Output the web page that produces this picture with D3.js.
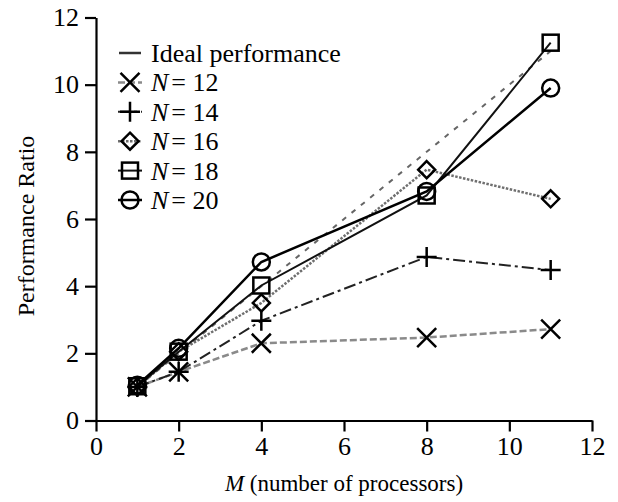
<!DOCTYPE html>
<html><head><meta charset="utf-8">
<script src="https://cdn.jsdelivr.net/npm/d3@7"></script>
<style>
body{margin:0;background:#fff;}
svg{display:block;font-family:"Liberation Serif","Times New Roman",serif;}
</style></head>
<body>
<svg id="chart" width="618" height="502"></svg>
<script>
const xValues = [1, 2, 4, 8, 11];
const idealValues = [1, 2, 4, 8, 11];
const n12Values = [1, 1.45, 2.3, 2.47, 2.72];
const n14Values = [1, 1.45, 2.97, 4.87, 4.48];
const n16Values = [1, 2.05, 3.5, 7.47, 6.6];
const n18Values = [1.02, 2.05, 4.02, 6.7, 11.25];
const n20Values = [1.05, 2.15, 4.72, 6.82, 9.9];
const xTicks = [0, 2, 4, 6, 8, 10, 12];
const yTicks = [0, 2, 4, 6, 8, 10, 12];
const seriesLabels = ["12", "14", "16", "18", "20"];

const FONT = '"Liberation Serif","Times New Roman",serif';
const svg = d3.select("#chart");
const x = d3.scaleLinear().domain([0, 12]).range([96, 592]);
const y = d3.scaleLinear().domain([0, 12]).range([420.5, 17.5]);

const styles = [
  {marker: "x", stroke: "#8a8a8a", width: 2.5, dash: "7,3"},
  {marker: "plus", stroke: "#222", width: 2, dash: "12,4,3,4"},
  {marker: "diamond", stroke: "#6f6f6f", width: 2.5, dash: "2.5,1.5"},
  {marker: "square", stroke: "#111", width: 2, dash: null},
  {marker: "circle", stroke: "#000", width: 2.5, dash: null}
];
const seriesValues = [n12Values, n14Values, n16Values, n18Values, n20Values];
const series = seriesValues.map((v, i) => Object.assign({label: seriesLabels[i], values: v}, styles[i]));

// axes
const xAxis = d3.axisBottom(x).tickValues(xTicks).tickSize(11).tickSizeOuter(0).tickPadding(5);
const yAxis = d3.axisLeft(y).tickValues(yTicks).tickSize(11).tickSizeOuter(0).tickPadding(6);
const gx = svg.append("g").attr("transform", `translate(0,${y(0)})`).call(xAxis);
const gy = svg.append("g").attr("transform", `translate(${x(0)},0)`).call(yAxis);
[gx, gy].forEach(g => {
  g.attr("font-family", FONT).attr("font-size", 26);
  g.select(".domain").attr("stroke", "#000").attr("stroke-width", 2.2);
  g.selectAll(".tick line").attr("stroke", "#000").attr("stroke-width", 2.2);
  g.selectAll(".tick text").attr("fill", "#000");
});

// lines
const line = d3.line().x((d, i) => x(xValues[i])).y(d => y(d));
svg.append("path").datum(idealValues).attr("d", line)
  .attr("fill", "none").attr("stroke", "#666").attr("stroke-width", 2).attr("stroke-dasharray", "5,7");

series.forEach(s => {
  svg.append("path").datum(s.values).attr("d", line)
    .attr("fill", "none").attr("stroke", s.stroke).attr("stroke-width", s.width)
    .attr("stroke-dasharray", s.dash);
});

function drawMarker(g, type, cx, cy) {
  let el;
  if (type === "x") {
    const r = 9.5;
    el = g.append("path").attr("d", `M${cx-r},${cy-r}L${cx+r},${cy+r}M${cx-r},${cy+r}L${cx+r},${cy-r}`);
  } else if (type === "plus") {
    const r = 10;
    el = g.append("path").attr("d", `M${cx-r},${cy}L${cx+r},${cy}M${cx},${cy-r}L${cx},${cy+r}`);
  } else if (type === "diamond") {
    const r = 8.5;
    el = g.append("path").attr("d", `M${cx},${cy-r}L${cx+r},${cy}L${cx},${cy+r}L${cx-r},${cy}Z`);
  } else if (type === "square") {
    const r = 8;
    el = g.append("rect").attr("x", cx-r).attr("y", cy-r).attr("width", 2*r).attr("height", 2*r);
  } else {
    el = g.append("circle").attr("cx", cx).attr("cy", cy).attr("r", 8.5);
  }
  el.attr("fill", "none").attr("stroke", "#000").attr("stroke-width", 2.5);
}

const mg = svg.append("g");
series.forEach(s => {
  s.values.forEach((v, i) => drawMarker(mg, s.marker, x(xValues[i]), y(v)));
});

// legend
const lg = svg.append("g").attr("font-family", FONT).attr("font-size", 26);
const lx = 130, ly0 = 53, dy = 29.4;
lg.append("line").attr("x1", lx-11).attr("x2", lx+11).attr("y1", ly0).attr("y2", ly0)
  .attr("stroke", "#333").attr("stroke-width", 2.5);
lg.append("text").attr("x", 151).attr("y", ly0 + 9).text("Ideal performance");
series.forEach((s, i) => {
  const yy = ly0 + dy * (i + 1);
  lg.append("line").attr("x1", lx-12).attr("x2", lx+12).attr("y1", yy).attr("y2", yy)
    .attr("stroke", s.stroke).attr("stroke-width", s.width).attr("stroke-dasharray", s.dash);
  drawMarker(lg, s.marker, lx, yy);
  const t = lg.append("text").attr("x", 151).attr("y", yy + 9);
  t.append("tspan").style("font-style", "italic").text("N");
  t.append("tspan").attr("dx", 3).text("= " + s.label);
});

// axis titles
const xt = svg.append("text").attr("x", 344).attr("y", 491).attr("text-anchor", "middle")
  .attr("font-family", FONT).attr("font-size", 23);
xt.append("tspan").style("font-style", "italic").text("M");
xt.append("tspan").text(" (number of processors)");
svg.append("text").attr("transform", `translate(34,${(y(0)+y(12))/2+7}) rotate(-90)`)
  .attr("text-anchor", "middle").attr("font-family", FONT).attr("font-size", 24).text("Performance Ratio");
</script>
</body></html>
